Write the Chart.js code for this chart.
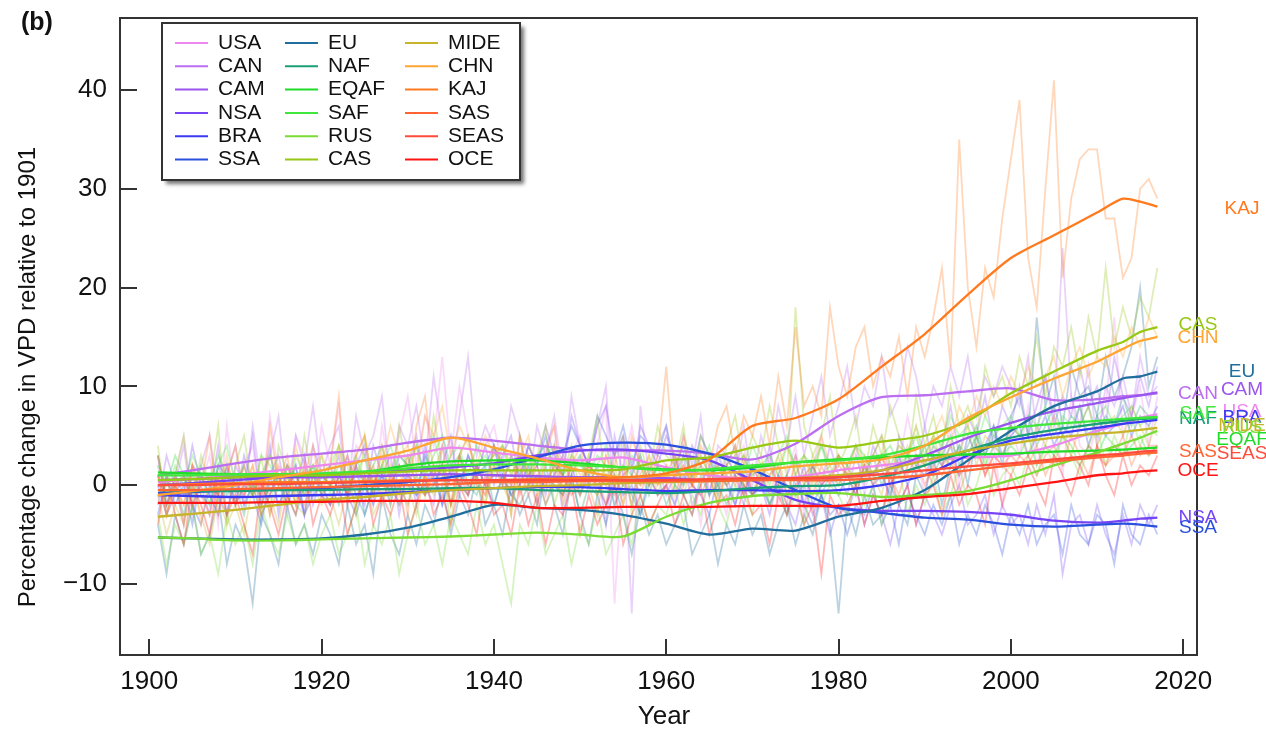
<!DOCTYPE html>
<html><head><meta charset="utf-8">
<script src="https://cdn.jsdelivr.net/npm/chart.js@4.4.0/dist/chart.umd.min.js"></script>
<style>html,body{margin:0;padding:0;background:#fff;}canvas{display:block;}</style>
</head><body>
<canvas id="c" width="1266" height="731"></canvas>
<script>
const regions = ['USA','CAN','CAM','NSA','BRA','SSA','EU','NAF','EQAF','SAF','RUS','CAS','MIDE','CHN','KAJ','SAS','SEAS','OCE'];
const regionColors = ['#EE88EE','#BB6EF0','#9955EE','#7744F5','#3A3AF5','#2B50DD','#1F6E9C','#1AA078','#1EDC28','#3EE83A','#78DC32','#96C814','#C8B428','#FFA532','#FF7A1E','#FF6432','#FF4B3C','#FF1414'];

// Smoothed curves (value at each of these years)
const smoothYears = [1901,1905,1910,1915,1920,1925,1930,1935,1940,1945,1950,1955,1960,1965,1970,1975,1980,1985,1990,1995,2000,2005,2010,2013,2015,2017];
const smoothUSA  = [0.3,0.6,1.0,1.5,2.0,2.5,3.0,3.8,3.3,2.8,2.5,2.8,1.8,1.0,0.6,0.8,1.5,2.0,2.5,2.8,3.0,4.0,5.5,6.2,6.8,7.2];
const smoothCAN  = [1.0,1.5,2.2,2.8,3.2,3.6,4.3,4.8,4.5,4.0,3.6,3.5,3.5,3.2,2.6,4.2,7.0,8.9,9.1,9.5,9.8,8.6,8.7,9.0,9.1,9.3];
const smoothCAM  = [0.5,0.6,0.8,0.8,0.8,0.9,1.0,1.1,1.0,0.9,0.8,0.8,0.7,0.5,0.5,0.6,0.8,1.5,3.0,4.8,6.3,7.5,8.3,8.8,9.1,9.4];
const smoothNSA  = [0.0,0.2,0.5,0.8,1.0,1.3,1.5,1.8,2.2,3.0,3.5,3.6,3.2,2.5,0.5,-1.5,-2.3,-2.6,-2.6,-2.7,-3.0,-3.6,-3.8,-3.6,-3.4,-3.3];
const smoothBRA  = [-1.0,-1.1,-1.2,-1.1,-1.0,-0.9,-0.7,-0.5,-0.3,-0.2,-0.2,-0.4,-0.6,-0.5,-0.5,-0.6,-0.5,0.0,1.0,3.0,4.5,5.2,5.8,6.2,6.4,6.6];
const smoothSSA  = [-0.8,-0.7,-0.5,-0.4,-0.3,0.0,0.3,0.8,1.6,2.8,4.0,4.3,4.1,3.2,1.6,-0.5,-2.3,-2.8,-3.3,-3.5,-4.0,-4.2,-4.0,-3.9,-4.0,-4.2];
const smoothEU   = [-5.3,-5.4,-5.5,-5.5,-5.4,-5.0,-4.3,-3.2,-2.0,-2.3,-2.5,-3.0,-3.9,-5.0,-4.4,-4.6,-3.2,-2.3,-0.5,2.5,5.5,8.0,9.5,10.8,11.0,11.5];
const smoothNAF  = [-0.5,-0.6,-0.6,-0.5,-0.5,-0.4,-0.4,-0.3,-0.3,-0.5,-0.6,-0.7,-0.8,-0.6,-0.3,-0.1,0.0,0.8,2.0,3.5,4.8,5.6,6.2,6.5,6.7,6.8];
const smoothEQAF = [1.3,1.2,1.1,1.0,1.0,1.3,2.0,2.4,2.5,2.5,2.2,1.8,1.6,1.5,1.8,2.3,2.6,2.8,3.0,3.1,3.2,3.4,3.5,3.6,3.7,3.8];
const smoothSAF  = [1.0,1.0,1.1,1.1,1.2,1.4,1.7,2.0,2.1,2.1,2.0,1.8,1.5,1.6,2.0,2.3,2.5,3.0,4.0,5.2,5.8,6.2,6.5,6.7,6.8,6.9];
const smoothRUS  = [-5.3,-5.4,-5.6,-5.6,-5.5,-5.4,-5.3,-5.2,-5.0,-4.8,-5.0,-5.2,-3.2,-1.8,-1.1,-0.9,-0.8,-1.2,-1.0,-0.6,0.5,2.0,3.3,4.2,4.8,5.5];
const smoothCAS  = [0.5,0.6,0.8,1.0,1.0,1.2,1.4,1.5,1.5,1.5,1.5,1.6,2.5,2.8,3.8,4.5,3.8,4.4,5.0,6.5,9.3,11.5,13.6,14.5,15.5,16.0];
const smoothMIDE = [-3.2,-2.9,-2.5,-2.0,-1.5,-1.2,-0.8,-0.5,-0.3,-0.1,0.0,0.2,0.3,0.4,0.5,0.7,1.0,1.5,2.5,3.5,4.2,4.8,5.2,5.4,5.6,5.8];
const smoothCHN  = [-1.0,-0.6,0.0,0.8,1.5,2.5,3.5,4.8,3.8,2.7,1.5,0.8,1.0,1.2,1.4,1.9,2.2,2.6,4.0,6.8,8.9,10.8,12.5,13.8,14.6,15.0];
const smoothKAJ  = [0.0,0.1,0.2,0.3,0.3,0.4,0.5,0.5,0.5,0.6,0.7,0.8,1.2,2.6,6.0,6.8,8.7,12.0,15.3,19.3,23.0,25.3,27.6,29.0,28.7,28.2];
const smoothSAS  = [-0.5,-0.5,-0.4,-0.3,-0.2,-0.1,0.0,0.1,0.3,0.3,0.4,0.4,0.4,0.4,0.5,0.5,0.5,0.7,1.0,1.5,2.0,2.4,2.8,3.0,3.2,3.3];
const smoothSEAS = [0.0,0.0,0.1,0.1,0.2,0.3,0.4,0.5,0.5,0.5,0.5,0.5,0.5,0.6,0.7,0.7,0.8,1.1,1.5,1.9,2.2,2.6,3.0,3.2,3.4,3.5];
const smoothOCE  = [-1.8,-1.8,-1.8,-1.7,-1.7,-1.6,-1.6,-1.6,-1.8,-2.3,-2.3,-2.2,-2.2,-2.2,-2.1,-2.1,-2.1,-1.6,-1.2,-0.9,-0.3,0.3,1.0,1.2,1.4,1.5];

// Annual values 1901..2017
const annualStartYear = 1901;
const annualUSA = [2,-3,1,5,-2,0,3,-4,6,-1,2,4,-2,7,1,-3,5,3,-1,6,
 2,8,-1,4,3,-2,6,1,5,9,2,7,4,13,3,10,5,1,4,6,
 2,-1,5,3,0,4,6,-2,3,5,1,4,8,-12,2,6,1,-1,3,2,
 -2,3,1,-4,2,0,-3,2,4,-1,0,3,-2,1,4,-3,2,5,0,3,
 1,4,-1,3,5,0,2,7,3,-1,4,2,6,0,3,5,1,4,-2,6,
 3,8,2,5,7,1,9,4,3,6,8,17,5,7,10,4,9];
const annualCAN = [3,-2,0,4,-3,2,5,-1,1,4,-2,6,0,3,7,-1,5,2,8,1,
 4,6,-1,7,3,5,9,0,6,4,8,2,11,5,1,7,13,3,6,4,
 2,8,5,0,6,3,7,1,9,4,2,6,10,-3,5,-13,8,1,4,6,
 0,5,2,7,-1,4,3,1,6,0,5,2,8,4,9,3,7,11,5,8,
 12,6,10,8,13,7,9,14,11,6,10,8,12,9,13,7,11,9,12,10,
 8,13,5,11,7,24,9,6,12,4,10,8,11,7,13,9,10];
const annualCAM = [-2,3,0,-4,2,1,-1,4,-3,2,0,5,-2,1,3,-1,2,-3,4,1,
 0,3,-2,2,4,-1,1,3,-3,2,5,0,-2,4,1,3,-1,2,0,4,
 1,-2,3,0,2,-1,4,-3,1,3,0,2,-4,5,1,-2,3,0,2,-1,
 1,3,-2,0,2,-1,3,1,-2,2,0,4,-1,1,3,-2,2,0,4,1,
 -1,3,0,4,2,-2,5,3,1,6,2,4,8,3,7,5,9,4,8,6,
 10,5,8,11,6,9,7,12,8,10,6,13,9,7,11,8,12];
const annualNSA = [3,-2,1,-1,4,0,-3,2,1,-2,3,0,-1,4,-3,2,0,3,-2,1,
 2,-1,3,0,-2,4,1,-1,3,2,-2,4,0,2,5,-1,3,1,4,0,
 3,5,0,4,2,6,3,1,7,4,2,6,8,3,5,1,6,4,2,5,
 3,0,4,2,-1,3,1,-2,2,-1,0,-3,1,-2,-4,0,-3,-1,-5,-2,
 -3,0,-4,-1,-3,-6,-2,0,-4,-1,-3,-5,-2,0,-4,-3,-1,-5,-2,-4,
 -3,-6,-2,-5,-1,-9,-4,-3,-6,-2,-5,-7,-3,-6,-2,-4,-2];
const annualBRA = [0,-3,-1,1,-2,-4,0,-1,-3,1,-2,0,-3,-1,1,-2,0,-3,-1,0,
 -2,1,-1,-3,0,-2,1,0,-2,1,-1,0,2,-2,1,0,-1,2,0,-2,
 1,-1,0,2,-2,1,0,-1,2,-1,1,0,-2,1,-1,0,-3,1,-1,0,
 -2,1,0,-1,-3,1,0,-2,1,-1,0,-2,1,0,-1,2,-2,0,1,-1,
 1,-1,2,0,1,-1,3,0,2,1,3,2,4,1,5,3,4,6,3,5,
 6,3,5,7,4,6,5,8,4,7,5,6,8,5,7,6,8];
const annualSSA = [-3,1,-2,0,-4,1,-1,-3,2,-2,0,-1,-4,1,-2,0,2,-3,1,-1,
 -2,1,-1,2,-3,0,1,-2,2,0,-1,3,1,-2,2,0,3,1,2,4,
 0,3,1,4,2,5,1,3,6,4,2,7,5,3,6,2,5,4,3,6,
 2,4,1,5,3,0,2,4,-1,2,1,-1,0,-3,1,-2,-4,-1,-3,-2,
 -5,-2,-3,0,-4,-2,-6,-1,-3,-5,-2,-4,-1,-6,-3,-5,-2,-4,-7,-3,
 -5,-2,-6,-4,-3,-7,-2,-5,-6,-3,-4,-8,-2,-5,-6,-3,-5];
const annualEU = [-4,-9,-3,-6,-2,-7,-5,-1,-8,-4,-6,-12,-3,-5,-8,-2,-6,-4,-7,-3,
 -5,-8,-2,-6,-4,-9,-1,-5,-7,-3,-6,-2,-4,0,-5,-1,-3,1,-4,-2,
 -5,0,-3,-1,-4,2,-2,-5,1,-3,-6,-1,-4,0,-3,-7,-2,-5,-3,-6,
 -4,-2,-7,-5,-3,-8,-4,-6,-2,-5,-3,-7,-4,-2,-6,-3,-5,-1,-4,-13,
 -2,-5,-1,-4,-3,0,-2,-4,1,-1,3,-2,2,4,0,5,3,6,2,7,
 9,5,17,8,11,6,12,9,10,7,13,9,11,14,20,10,13];
const annualNAF = [1,-2,0,-3,1,-1,-2,2,-1,0,-3,1,-2,0,1,-1,-3,0,2,-1,
 0,-2,1,-1,-3,0,2,-1,0,-2,1,-1,0,2,-2,1,0,-1,2,-2,
 1,-1,-2,0,1,-2,0,-1,1,-3,0,-1,1,-2,0,-1,-3,0,1,-2,
 0,-1,-3,1,-1,0,-2,1,0,-1,1,-2,0,1,-1,0,2,-1,1,0,
 2,0,1,3,0,2,1,3,2,4,1,3,5,2,4,6,3,5,4,6,
 5,7,4,6,8,5,7,6,8,5,7,6,9,6,8,7,7];
const annualEQAF = [2,0,3,1,-1,2,0,3,1,0,2,-1,1,3,0,2,1,-1,2,1,
 0,2,1,3,0,2,4,1,3,2,4,1,3,5,2,3,1,4,2,3,
 4,2,3,1,3,4,2,1,3,2,1,3,2,0,2,1,3,0,2,1,
 2,0,1,3,1,2,0,2,3,1,2,3,1,4,2,3,1,4,2,3,
 2,4,3,1,3,4,2,3,5,2,4,3,2,4,3,5,2,4,3,4,
 3,5,2,4,3,5,4,2,4,3,5,4,3,4,5,3,4];
const annualSAF = [3,-1,2,0,3,1,-2,2,4,0,1,-1,3,2,0,-2,3,1,2,0,
 2,4,0,1,3,-1,2,4,1,3,0,2,5,1,3,4,0,2,3,1,
 4,1,3,2,0,3,4,1,2,3,0,2,4,1,0,3,2,-1,2,1,
 0,3,1,2,4,0,2,3,1,4,2,0,3,5,1,3,2,4,1,3,
 2,4,1,3,5,2,4,3,6,3,5,4,7,5,6,4,7,5,6,7,
 5,7,6,8,5,7,6,8,5,7,8,6,7,8,6,7,7];
const annualRUS = [-3,-8,-4,-6,-2,-7,-5,-9,-3,-6,-4,-8,-2,-5,-7,-3,-6,-4,-8,-5,
 -3,-7,-5,-2,-8,-4,-6,-3,-9,-5,-2,-6,-4,-8,-3,-5,-7,-2,-6,-4,
 -8,-12,-4,-6,-2,-7,-5,-3,-8,-4,-6,-2,-7,-5,-3,-6,-1,-4,-2,-3,
 0,-4,-1,-3,1,-2,-4,0,-1,-3,2,-2,0,-3,-1,-4,1,-2,0,-1,
 -3,1,-2,0,-4,-1,2,-3,0,-2,1,-3,-1,2,-2,0,3,-1,1,2,
 0,3,1,4,2,5,3,1,4,6,2,5,3,7,4,6,5];
const annualCAS = [4,-3,1,5,-2,3,0,6,-4,2,5,-1,3,-3,4,1,-2,5,0,3,
 -1,4,2,-3,5,0,3,-2,6,1,4,-1,7,2,-4,3,5,0,-2,4,
 2,-3,5,0,3,6,-2,1,4,-1,3,7,0,2,5,-3,4,1,6,3,
 2,6,0,5,3,-1,4,7,2,5,3,8,4,1,18,6,3,5,9,2,
 4,7,1,6,3,8,5,2,9,4,7,3,10,6,8,5,12,9,11,8,
 13,10,15,9,14,12,16,11,17,13,22,14,18,15,19,17,22];
const annualMIDE = [-1,-5,-2,-4,0,-3,-6,-1,-4,-2,-5,0,-3,-1,-4,1,-2,-3,0,-2,
 -1,-4,0,-2,1,-3,-1,2,-2,0,-3,1,-1,2,-2,0,-1,1,-2,2,
 0,-2,1,3,-1,0,2,-2,1,0,3,-1,1,2,-2,1,0,3,-1,2,
 1,-1,2,0,3,-2,1,2,0,-1,2,1,3,-1,2,0,3,1,2,0,
 2,0,3,1,-1,3,2,4,1,3,5,2,4,3,6,2,5,4,3,6,
 5,3,6,4,7,5,3,6,8,4,6,7,5,8,6,4,7];
const annualCHN = [1,-3,0,-2,2,-4,1,-1,3,-2,0,2,-1,3,1,-2,4,0,2,3,
 1,4,-1,3,5,0,2,6,3,4,1,7,5,8,3,6,4,2,5,3,
 4,1,3,5,0,2,4,-1,3,1,2,-1,3,0,2,-2,1,3,0,2,
 -1,2,0,3,1,-2,2,4,0,1,3,-1,2,4,1,3,0,5,2,3,
 1,4,2,3,5,1,4,3,6,2,5,7,4,8,6,9,7,10,8,11,
 9,12,10,11,13,9,12,14,11,13,12,15,13,16,14,17,15];
const annualKAJ = [3,-2,1,-4,2,0,5,-3,1,4,-1,2,-3,6,0,3,-2,1,4,-1,
 2,9,-2,3,5,-1,4,0,2,-3,6,9,1,4,-2,3,5,0,-1,4,
 2,-3,5,1,-2,3,6,-1,2,4,0,-3,3,1,-2,5,2,0,3,12,
 1,5,0,4,2,6,8,3,7,5,9,4,11,6,16,8,10,7,18,12,
 9,14,16,10,13,11,15,9,16,13,17,22,12,35,20,14,22,19,27,33,
 39,23,18,30,41,21,29,33,34,34,27,27,21,23,30,31,29];
const annualSAS = [1,-3,0,-2,2,-1,-3,1,0,-2,2,-1,1,-3,0,2,-1,-2,1,0,
 -2,1,3,-1,0,2,-2,1,-1,3,0,-1,2,1,-2,3,0,1,-1,2,
 0,3,-1,1,2,-2,1,3,0,-1,2,1,-2,3,0,1,-1,2,0,1,
 3,-1,0,2,1,-2,2,0,3,-1,1,2,0,-2,3,1,-1,2,0,3,
 1,-1,2,0,3,1,-1,2,3,0,2,1,3,-1,2,4,1,3,2,1,
 3,2,4,1,3,2,5,3,1,4,2,3,5,2,4,3,4];
const annualSEAS = [1,-1,0,1,-2,0,1,-1,2,0,-1,1,0,-1,2,0,1,-1,0,1,
 0,1,-1,2,0,1,-1,0,2,1,0,-1,1,2,0,1,-1,2,0,1,
 1,0,2,-1,1,0,2,1,-1,0,2,1,0,-1,1,2,0,1,-1,0,
 1,2,0,-1,1,2,0,1,-1,2,0,1,2,-1,0,1,2,0,1,2,
 1,0,2,1,3,0,2,1,3,2,0,2,3,1,2,4,1,3,2,3,
 2,3,1,3,4,2,3,2,4,3,2,4,3,5,3,4,4];
const annualOCE = [-4,1,-3,-6,0,-2,-5,1,-3,-1,-4,-7,0,-2,-5,-1,-3,2,-4,-1,
 -3,0,-5,-2,1,-4,-1,-3,0,-5,-2,1,-3,-1,-4,0,-2,-5,1,-3,
 -2,-5,0,-4,-1,-6,-2,-3,0,-5,-1,-4,-2,0,-6,-3,-1,-4,-2,0,
 -4,-1,-3,0,-5,-2,-1,-4,0,-3,-2,-6,-1,-3,0,-4,-2,-9,-1,-3,
 -2,0,-4,-1,-3,1,-2,0,-4,-1,0,-3,1,-2,0,-1,-4,2,-2,1,
 -1,2,0,-2,3,1,-1,2,0,4,1,-1,3,0,2,1,3];

// End-of-line region labels (value where the label sits, and which of two label columns)
const labelValues = [7.4,9.3,9.7,-3.3,6.8,-4.3,11.5,6.7,4.6,7.2,5.8,16.2,6.0,14.9,28.0,3.4,3.2,1.5];
const labelColumn = [1,0,1,0,1,0,1,0,1,0,1,0,1,0,1,0,1,0];

const xTicks = [1900,1920,1940,1960,1980,2000,2020];
const yTicks = [-10,0,10,20,30,40];

const smoothSeries = [smoothUSA,smoothCAN,smoothCAM,smoothNSA,smoothBRA,smoothSSA,smoothEU,smoothNAF,smoothEQAF,smoothSAF,smoothRUS,smoothCAS,smoothMIDE,smoothCHN,smoothKAJ,smoothSAS,smoothSEAS,smoothOCE];
const annualSeries = [annualUSA,annualCAN,annualCAM,annualNSA,annualBRA,annualSSA,annualEU,annualNAF,annualEQAF,annualSAF,annualRUS,annualCAS,annualMIDE,annualCHN,annualKAJ,annualSAS,annualSEAS,annualOCE];

const FONT = '"Liberation Sans", Arial, Helvetica, sans-serif';
function rgba(hex, a){
  const n = parseInt(hex.slice(1),16);
  return `rgba(${(n>>16)&255},${(n>>8)&255},${n&255},${a})`;
}

const datasets = [];
regions.forEach((r,i)=>{
  datasets.push({
    label: r + ' annual',
    data: annualSeries[i].map((v,k)=>({x: annualStartYear + k, y: v})),
    borderColor: rgba(regionColors[i], 0.3),
    borderWidth: 1.8,
    pointRadius: 0,
    fill: false,
    tension: 0,
    order: 100 + (17 - i)
  });
});
regions.forEach((r,i)=>{
  datasets.push({
    label: r,
    data: smoothSeries[i].map((v,k)=>({x: smoothYears[k], y: v})),
    borderColor: regionColors[i],
    borderWidth: 2.3,
    pointRadius: 0,
    fill: false,
    tension: 0.25,
    order: 17 - i
  });
});

const decor = {
  id: 'decor',
  afterDraw(chart){
    const ctx = chart.ctx, a = chart.chartArea;
    const xs = chart.scales.x, ys = chart.scales.y;
    ctx.save();
    // plot box
    ctx.strokeStyle = '#333'; ctx.lineWidth = 2;
    ctx.strokeRect(a.left, a.top, a.right - a.left, a.bottom - a.top);
    // inward ticks
    ctx.beginPath();
    xTicks.forEach(v=>{ const px = Math.round(xs.getPixelForValue(v)); ctx.moveTo(px, a.bottom); ctx.lineTo(px, a.bottom - 16); });
    yTicks.forEach(v=>{ const py = Math.round(ys.getPixelForValue(v)); ctx.moveTo(a.left, py); ctx.lineTo(a.left + 17, py); });
    ctx.stroke();
    // axis titles
    ctx.fillStyle = '#111';
    ctx.font = '24px ' + FONT;
    ctx.textAlign = 'center'; ctx.textBaseline = 'middle';
    ctx.save();
    ctx.translate(28, 377); ctx.rotate(-Math.PI/2);
    ctx.fillText('Percentage change in VPD relative to 1901', 0, 0);
    ctx.restore();
    ctx.font = '26px ' + FONT;
    ctx.fillText('Year', 664, 717);
    // panel tag
    ctx.font = 'bold 25px ' + FONT;
    ctx.textAlign = 'left';
    ctx.fillText('(b)', 21, 23);
    // end labels
    ctx.font = '19px ' + FONT;
    ctx.textAlign = 'center';
    regions.forEach((r,i)=>{
      const px = a.right + 1 + labelColumn[i]*44;
      const py = ys.getPixelForValue(labelValues[i]);
      ctx.fillStyle = regionColors[i];
      ctx.fillText(r, px, py);
    });
    // legend
    const lx = 162, ly = 23, lw = 358, lh = 157;
    ctx.save();
    ctx.shadowColor = 'rgba(0,0,0,0.55)';
    ctx.shadowBlur = 4; ctx.shadowOffsetX = 4; ctx.shadowOffsetY = 4;
    ctx.fillStyle = '#fff';
    ctx.fillRect(lx, ly, lw, lh);
    ctx.restore();
    ctx.strokeStyle = '#333'; ctx.lineWidth = 2;
    ctx.strokeRect(lx, ly, lw, lh);
    const colX = [175, 285, 405];
    ctx.font = '21px ' + FONT;
    ctx.textAlign = 'left'; ctx.textBaseline = 'middle';
    regions.forEach((r,i)=>{
      const c = Math.floor(i/6), row = i % 6;
      const y = 43 + row*23.3;
      ctx.strokeStyle = regionColors[i]; ctx.lineWidth = 2;
      ctx.beginPath(); ctx.moveTo(colX[c], y); ctx.lineTo(colX[c] + 33, y); ctx.stroke();
      ctx.fillStyle = '#111';
      ctx.fillText(r, colX[c] + 43, y);
    });
    ctx.restore();
  }
};

new Chart(document.getElementById('c'), {
  type: 'line',
  data: { datasets },
  options: {
    responsive: false,
    animation: false,
    devicePixelRatio: 1,
    layout: { padding: { top: 18, right: 69, left: 0, bottom: 0 } },
    plugins: { legend: { display: false }, tooltip: { enabled: false } },
    scales: {
      x: {
        type: 'linear', min: 1896.6, max: 2021.6,
        grid: { display: false, drawTicks: false },
        border: { display: false },
        ticks: { font: { size: 26, family: FONT }, color: '#111', padding: 11, maxRotation: 0, callback: v => String(v) },
        afterBuildTicks: s => { s.ticks = xTicks.map(v => ({ value: v })); },
        afterFit: s => { s.height = 76; s.paddingLeft = 0; s.paddingRight = 0; }
      },
      y: {
        type: 'linear', min: -17.2, max: 47.3,
        grid: { display: false, drawTicks: false },
        border: { display: false },
        ticks: { font: { size: 26, family: FONT }, color: '#111', padding: 13, callback: v => (v < 0 ? '\u2212' + Math.abs(v) : String(v)) },
        afterBuildTicks: s => { s.ticks = yTicks.map(v => ({ value: v })); },
        afterFit: s => { s.width = 120; s.paddingTop = 0; s.paddingBottom = 0; }
      }
    }
  },
  plugins: [decor]
});
</script>
</body></html>
